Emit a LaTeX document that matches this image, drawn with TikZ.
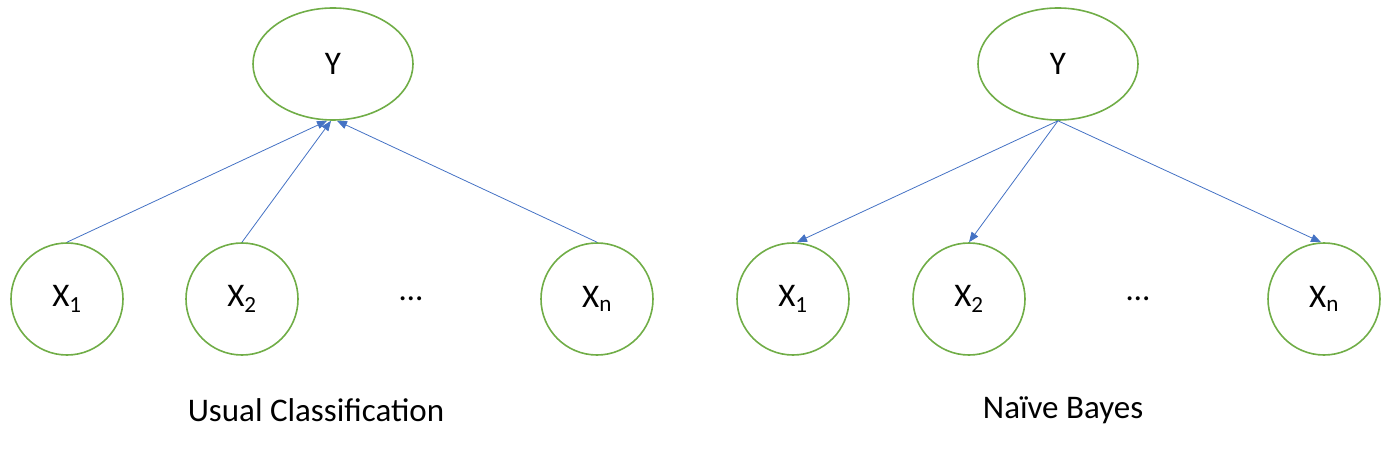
\documentclass[tikz,border=0pt]{standalone}
\usepackage{fontspec}
\setmainfont{Carlito}
\usetikzlibrary{arrows.meta,shapes.geometric}
\definecolor{ngreen}{HTML}{70AD47}
\definecolor{eblue}{HTML}{4472C4}
\begin{document}
\begin{tikzpicture}[x=1pt,y=-1pt,
  yell/.style={draw=ngreen,line width=1.6pt,ellipse,minimum width=160pt,minimum height=112pt,inner sep=0pt,font=\fontsize{33}{38}\selectfont},
  xcirc/.style={draw=ngreen,line width=1.6pt,circle,minimum size=112pt,inner sep=0pt,font=\fontsize{33}{38}\selectfont},
  conn/.style={draw=eblue,line width=0.8pt,-{Triangle[length=10pt,width=8pt]}},
  lbl/.style={font=\fontsize{33}{38}\selectfont},
  dotlbl/.style={font=\fontsize{33}{38}\selectfont}]
\useasboundingbox (0,0) rectangle (1388,454);
% left
\node[yell] (ya) at (333,64) {Y};
\node[xcirc] (a1) at (67,299) {X\textsubscript{1}};
\node[xcirc] (a2) at (242,299) {X\textsubscript{2}};
\node[xcirc] (an) at (597,299) {X\textsubscript{n}};
\node[dotlbl] (ad) at (411,299) {…};
\node[lbl] (la) at (316,410) {Usual Classification};
\draw[conn] (a1.north) -- ([xshift=-6pt]ya.south);
\draw[conn] (a2.north) -- ([xshift=-2pt]ya.south);
\draw[conn] (an.north) -- ([xshift=4pt]ya.south);
% right
\node[yell] (yb) at (1058,64) {Y};
\node[xcirc] (b1) at (793,299) {X\textsubscript{1}};
\node[xcirc] (b2) at (969,299) {X\textsubscript{2}};
\node[xcirc] (bn) at (1324,299) {X\textsubscript{n}};
\node[dotlbl] (bd) at (1138,299) {…};
\node[lbl] (lb) at (1063,410) {Naïve Bayes};
\draw[conn] (yb.south) -- ([xshift=4pt]b1.north);
\draw[conn] (yb.south) -- (b2.north);
\draw[conn] (yb.south) -- ([xshift=-3pt]bn.north);
\end{tikzpicture}
\end{document}
